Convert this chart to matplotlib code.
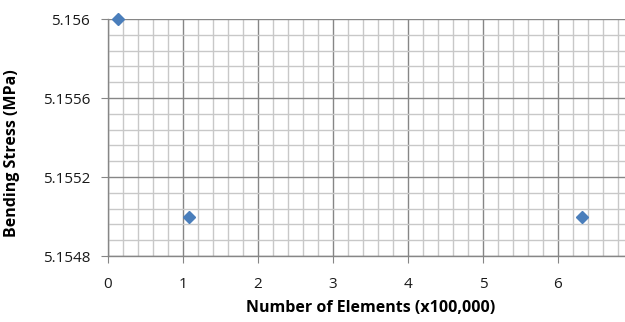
import matplotlib
matplotlib.use("Agg")
import matplotlib.pyplot as plt
from matplotlib.ticker import MultipleLocator, FixedLocator

elements = [0.13, 1.08, 6.32]          # x100,000
stress = [5.156, 5.155, 5.155]         # MPa
y_ticks = [5.1548, 5.1552, 5.1556, 5.156]
y_tick_labels = ["5.1548", "5.1552", "5.1556", "5.156"]
x_ticks = [0, 1, 2, 3, 4, 5, 6]

plt.rcParams['font.family'] = ['Open Sans', 'DejaVu Sans']

fig = plt.figure(figsize=(6.25, 3.22), dpi=100)
ax = fig.add_axes([108/625, 1 - 256/322, 525/625, 237/322])

ax.set_xlim(0, 7)
ax.set_ylim(5.1548, 5.156)
ax.xaxis.set_major_locator(FixedLocator(x_ticks))
ax.xaxis.set_minor_locator(MultipleLocator(0.2))
ax.yaxis.set_major_locator(FixedLocator(y_ticks))
ax.yaxis.set_minor_locator(MultipleLocator(0.00008))
ax.set_yticklabels(y_tick_labels)

ax.grid(which='major', color='#868686', linewidth=1.0)
ax.grid(which='minor', color='#c8c8c8', linewidth=1.0)
ax.set_axisbelow(True)

for s in ['top', 'right']:
    ax.spines[s].set_visible(False)
for s in ['left', 'bottom']:
    ax.spines[s].set_color('#868686')
    ax.spines[s].set_linewidth(1.0)

ax.tick_params(which='major', length=5, color='#868686', labelsize=11,
               labelcolor='#1a1a1a')
ax.tick_params(axis='x', which='major', pad=10)
ax.tick_params(axis='y', which='major', pad=8)
ax.tick_params(which='minor', length=0)

ax.plot(elements, stress, linestyle='none', marker='D', markersize=6.5,
        color='#4a7ebb', clip_on=False, zorder=5)

ax.set_xlabel('Number of Elements (x100,000)', fontsize=11.5, fontweight='bold',
              labelpad=6)
ax.set_ylabel('Bending Stress (MPa)', fontsize=11.5, fontweight='bold',
              labelpad=8)
ax.yaxis.set_label_coords(-0.167, 0.435)

fig.savefig('out.png', dpi=100)
